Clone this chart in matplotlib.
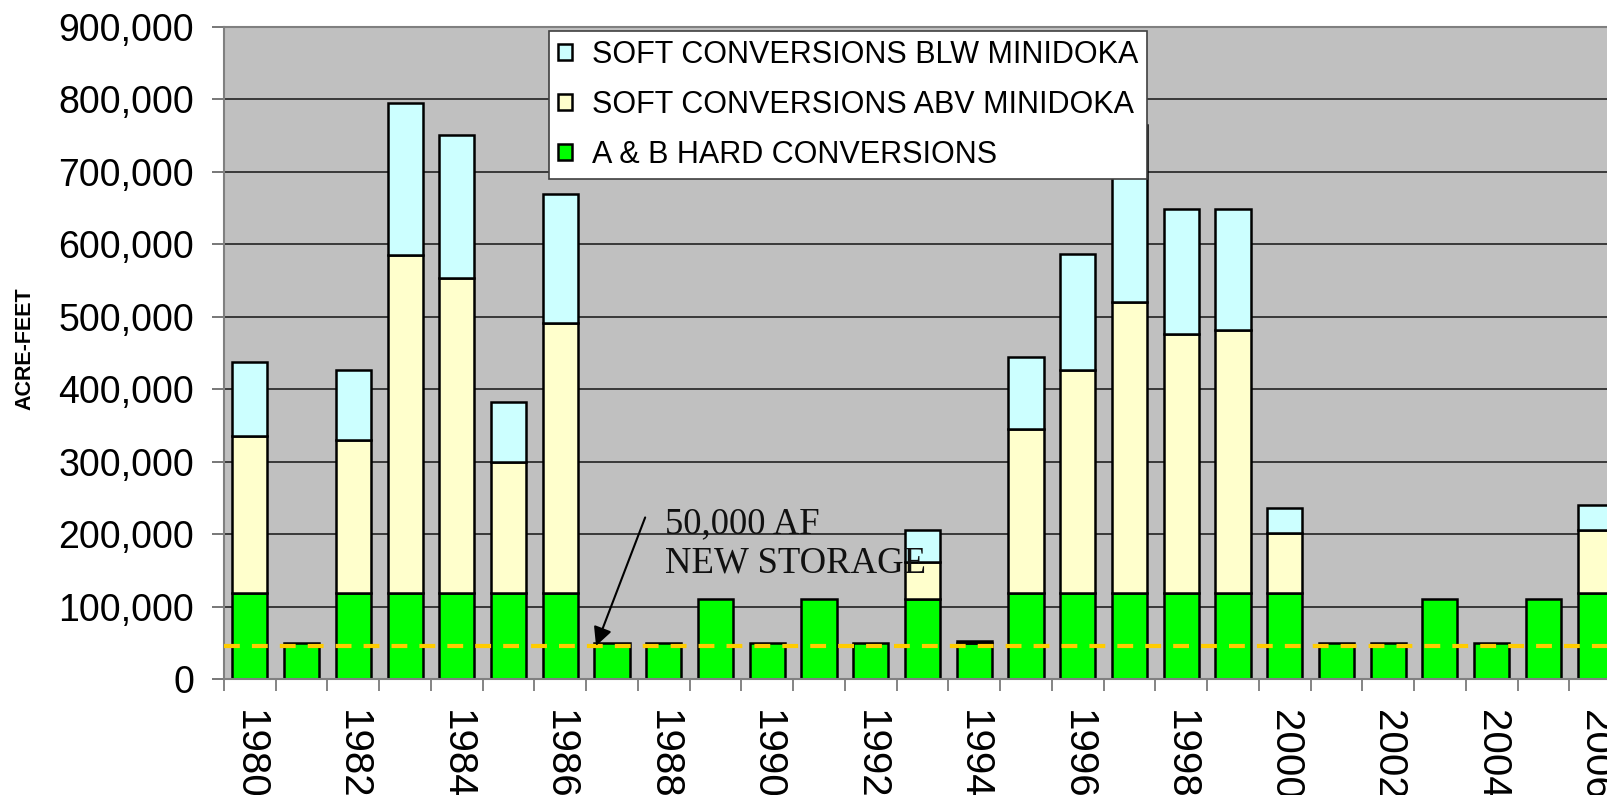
import numpy as np
import matplotlib.pyplot as plt
from matplotlib.ticker import FuncFormatter, FixedLocator

plt.rcParams['font.family'] = ['Liberation Sans', 'DejaVu Sans']

# values (acre-feet)
years = list(range(1980, 2007))
hard = [119000, 50000, 119000, 119000, 119000, 119000, 119000, 50000, 50000,
        111000, 50000, 111000, 50000, 111000, 50000, 119000, 119000, 119000,
        119000, 119000, 119000, 50000, 50000, 111000, 50000, 111000, 119000]
soft_abv = [217000, 0, 211000, 466000, 434000, 180000, 372000, 0, 0,
            0, 0, 0, 0, 50000, 2500, 226000, 308000, 401000,
            357000, 363000, 83000, 0, 0, 0, 0, 0, 86000]
soft_blw = [102000, 0, 97000, 210000, 198000, 84000, 178000, 0, 0,
            0, 0, 0, 0, 45000, 0, 99000, 160000, 245000,
            173000, 167000, 34000, 0, 0, 0, 0, 0, 35000]
new_storage = 45000

labels = ['A & B HARD CONVERSIONS', 'SOFT CONVERSIONS ABV MINIDOKA',
          'SOFT CONVERSIONS BLW MINIDOKA']
colors = ['#00FF00', '#FFFFCC', '#CCFFFF']

W, H = 1608, 795
fig = plt.figure(figsize=(W / 100, H / 100), dpi=100)
ax = fig.add_axes([224 / W, 1 - 679 / H, (1621 - 224) / W, (679 - 27) / H])
ax.set_facecolor('#C0C0C0')
ax.set_axisbelow(True)

x = np.arange(len(years))
bottom = np.zeros(len(years))
handles = []
for vals, col, lab in zip([hard, soft_abv, soft_blw], colors, labels):
    v = np.array(vals, dtype=float)
    m = v > 0
    b = ax.bar(x[m], v[m], width=0.68, bottom=bottom[m], color=col,
               edgecolor='black', linewidth=1.8, label=lab, zorder=2)
    handles.append(b)
    bottom += v

ax.axhline(new_storage, color='#FFCC00', lw=3, dashes=(3.8, 2.9), zorder=3)

ax.set_xlim(-0.5, len(years) - 0.5)
ax.set_ylim(0, 900000)
ax.set_yticks(np.arange(0, 900001, 100000))
ax.yaxis.set_major_formatter(FuncFormatter(lambda v, p: f'{int(v):,}'))
ax.grid(axis='y', color='#222222', lw=1.2)

ax.xaxis.set_major_locator(FixedLocator(x[::2]))
ax.set_xticklabels([str(y) for y in years[::2]], rotation=-90, va='top',
                   ha='center')
ax.xaxis.set_minor_locator(FixedLocator(np.arange(-0.5, len(years), 1)))
ax.tick_params(axis='x', which='major', length=0, pad=22, labelsize=29)
ax.tick_params(axis='x', which='minor', length=8.6, width=1.2,
               color='#707070', direction='out')
ax.tick_params(axis='y', length=8.6, width=1.2, color='#606060', pad=13,
               labelsize=27)

for s in ['left', 'bottom', 'top', 'right']:
    ax.spines[s].set_color('#808080')
    ax.spines[s].set_linewidth(1.5)

fig.text(25 / W, 1 - 410 / H, 'ACRE-FEET', rotation=90, ha='center',
         va='bottom', fontsize=15.5, fontweight='bold')

# annotation for the new storage line
ax.text(8.03, 238000, '50,000 AF\nNEW STORAGE', family='Liberation Serif',
        fontsize=26.5, color='#111111', ha='left', va='top',
        linespacing=1.2, zorder=4)
ax.annotate('', xy=(6.69, 45700), xytext=(7.64, 223000),
            arrowprops=dict(arrowstyle='-|>', mutation_scale=28, lw=1.5,
                            color='black', shrinkA=0, shrinkB=0), zorder=4)

leg = ax.legend(handles[::-1], labels[::-1], loc='upper left',
                bbox_to_anchor=(549 / W, 1 - 31 / H),
                bbox_transform=fig.transFigure, borderaxespad=0,
                fontsize=22, handlelength=0.45, handleheight=0.45,
                handletextpad=0.65, borderpad=0.3, labelspacing=0.65,
                fancybox=False, framealpha=1, edgecolor='#404040')
leg.get_frame().set_linewidth(1.2)
leg.set_zorder(5)

fig.savefig('out.png', dpi=100)
